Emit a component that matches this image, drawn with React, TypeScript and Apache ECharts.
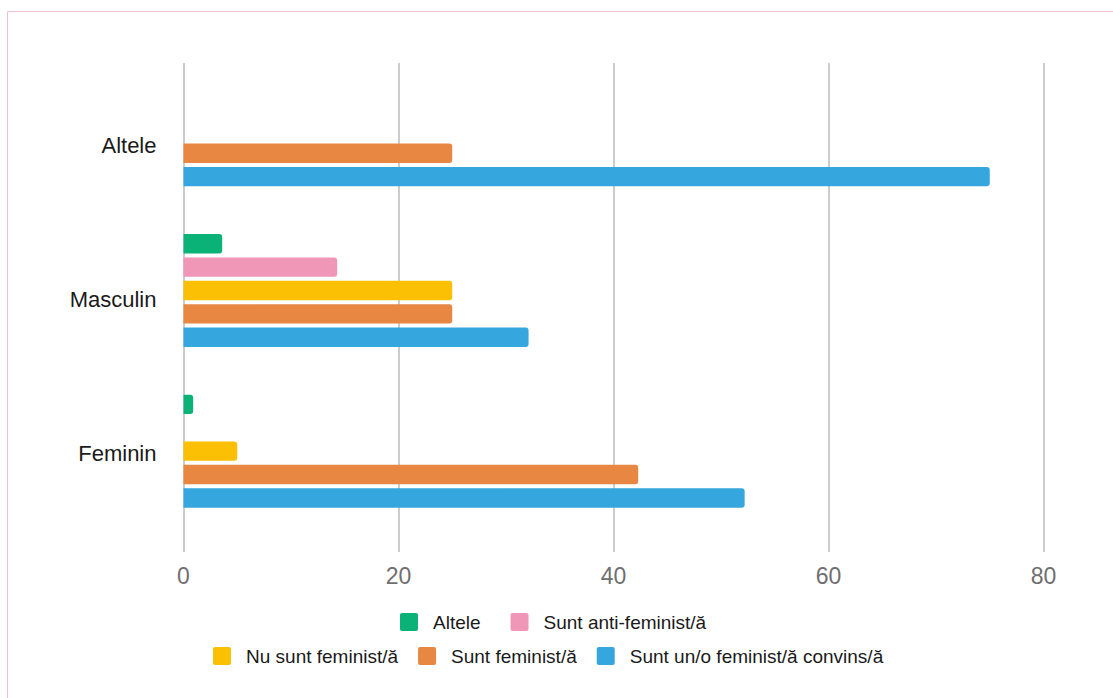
import React, { useEffect, useRef } from "react";
import * as echarts from "echarts";

const categories = ["Feminin", "Masculin", "Altele"];
const tickLabels = ["0", "20", "40", "60", "80"];

const seriesNames = [
  "Altele",
  "Sunt anti-feminist/ă",
  "Nu sunt feminist/ă",
  "Sunt feminist/ă",
  "Sunt un/o feminist/ă convins/ă",
];
const seriesColors = ["#0bb278", "#f097b8", "#fbbf03", "#e88741", "#36a7de"];

// values in category order: Feminin, Masculin, Altele
const alteleValues = [0.9, 3.6, 0];
const antiFeministValues = [0, 14.3, 0];
const nuFeministValues = [5, 25, 0];
const feministValues = [42.3, 25, 25];
const convinsValues = [52.2, 32.1, 75];

const seriesValues = [
  alteleValues,
  antiFeministValues,
  nuFeministValues,
  feministValues,
  convinsValues,
];

const FONT = "'Liberation Sans', Arial, Helvetica, sans-serif";
const LEGEND_ICON =
  "path://M2,0H16Q18,0 18,2V16Q18,18 16,18H2Q0,18 0,16V2Q0,0 2,0Z";

export default function App() {
  const ref = useRef<HTMLDivElement>(null);

  useEffect(() => {
    if (!ref.current) return;
    const chart = echarts.init(ref.current, null, { renderer: "svg" });

    const xCommon = {
      type: "value" as const,
      min: 0,
      max: 80,
      interval: 20,
    };

    const legendText = {
      color: "#1a1a1a",
      fontSize: 19,
      fontFamily: FONT,
      padding: [0, 0, 0, 10],
    };

    const option: any = {
      animation: false,
      backgroundColor: "#ffffff",
      textStyle: { fontFamily: FONT },
      graphic: [
        {
          type: "rect",
          shape: { x: 7.5, y: 11.5, width: 1300, height: 900 },
          style: { fill: "none", stroke: "#efbfd3", lineWidth: 1 },
          silent: true,
          z: -10,
        },
      ],
      grid: [
        // gridlines and tick labels
        { left: 183.5, width: 860, top: 63, height: 489 },
        // category labels
        { left: 183.5, width: 860, top: 68, height: 462 },
        // bars
        { left: 183.5, width: 860, top: 49.5, height: 482 },
      ],
      xAxis: [
        {
          ...xCommon,
          gridIndex: 0,
          axisLine: { show: false },
          axisTick: { show: false },
          splitLine: { show: true, lineStyle: { color: "#cccccc", width: 2 } },
          axisLabel: {
            color: "#6f6f6f",
            fontSize: 23,
            fontFamily: FONT,
            margin: 12,
            formatter: (v: number) => tickLabels[Math.round(v / 20)] ?? String(v),
          },
        },
        { ...xCommon, gridIndex: 1, show: false },
        { ...xCommon, gridIndex: 2, show: false },
      ],
      yAxis: [
        { type: "value", gridIndex: 0, show: false },
        {
          type: "category",
          gridIndex: 1,
          data: categories,
          axisLine: { show: false },
          axisTick: { show: false },
          splitLine: { show: false },
          axisLabel: {
            color: "#1a1a1a",
            fontSize: 22,
            fontFamily: FONT,
            margin: 27,
          },
        },
        { type: "category", gridIndex: 2, data: categories, show: false },
      ],
      legend: [
        {
          data: seriesNames.slice(0, 2),
          left: 400,
          top: 612.5,
          padding: 0,
          itemWidth: 18,
          itemHeight: 18,
          itemGap: 30,
          icon: LEGEND_ICON,
          selectedMode: false,
          textStyle: legendText,
        },
        {
          data: seriesNames.slice(2),
          left: 213,
          top: 646.5,
          padding: 0,
          itemWidth: 18,
          itemHeight: 18,
          itemGap: 20,
          icon: LEGEND_ICON,
          selectedMode: false,
          textStyle: legendText,
        },
      ],
      series: seriesNames.map((name, i) => ({
        name,
        type: "bar",
        xAxisIndex: 2,
        yAxisIndex: 2,
        data: seriesValues[i],
        barWidth: 19.4,
        barGap: "20.6%",
        itemStyle: { color: seriesColors[i], borderRadius: [0, 3, 3, 0] },
        emphasis: { disabled: true },
      })),
    };

    chart.setOption(option);
    return () => chart.dispose();
  }, []);

  return (
    <div
      ref={ref}
      style={{ position: "absolute", left: 0, top: 0, width: 1113, height: 698 }}
    />
  );
}
